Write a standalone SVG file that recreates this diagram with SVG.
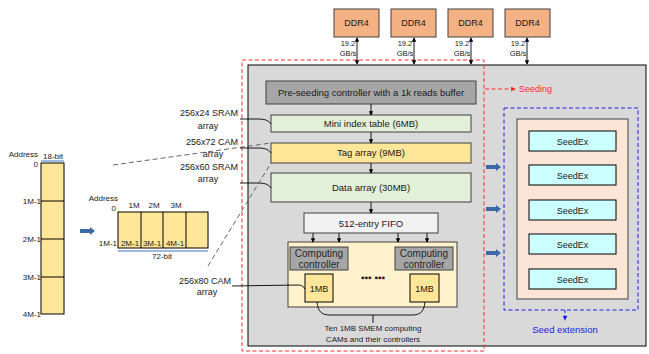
<svg xmlns="http://www.w3.org/2000/svg" width="649" height="354" viewBox="0 0 649 354">
  <style>
    text { font-family: "Liberation Sans", Arial, sans-serif; font-size: 9px; fill: #1a1a1a; }
    .c { text-anchor: middle; }
    .r { text-anchor: end; }
    .box { stroke: #404040; stroke-width: 1; }
    .line { stroke: #000; stroke-width: 0.9; fill: none; }
    .dash { stroke: #555; stroke-width: 0.9; stroke-dasharray: 5 3; fill: none; }
    .cell { fill: #ffe699; stroke: #000; stroke-width: 1; }
  </style>
  <defs>
    <marker id="ah" viewBox="0 0 6 6" refX="5" refY="3" markerWidth="5" markerHeight="5" orient="auto-start-reverse">
      <path d="M0,0 L6,3 L0,6 z" fill="#000"/>
    </marker>
    <marker id="ahRed" viewBox="0 0 6 6" refX="5" refY="3" markerWidth="5" markerHeight="5" orient="auto">
      <path d="M0,0 L6,3 L0,6 z" fill="#ff2a2a"/>
    </marker>
    <marker id="ahBlue" viewBox="0 0 6 6" refX="5" refY="3" markerWidth="5" markerHeight="5" orient="auto">
      <path d="M0,0 L6,3 L0,6 z" fill="#2020e0"/>
    </marker>
    <g id="fatArrow">
      <path d="M0,-2 L10,-2 L10,-4 L15,0 L10,4 L10,2 L0,2 z" fill="#3d68a8"/>
    </g>
  </defs>

  <!-- accelerator body -->
  <g id="chip">
    <rect x="248" y="65" width="398" height="281" fill="#d9d9d9" stroke="#000" stroke-width="1"/>
  </g>

  <!-- seeding region -->
  <g id="seeding-region">
    <rect x="242" y="60" width="242" height="291" fill="none" stroke="#ff2a2a" stroke-width="1" stroke-dasharray="4 2.5"/>
    <path d="M485,89 L515,89" stroke="#ff2a2a" stroke-width="1" stroke-dasharray="4 2.5" fill="none" marker-end="url(#ahRed)"/>
    <text x="519" y="92" style="fill:#ff2a2a">Seeding</text>
  </g>

  <!-- DDR4 channels -->
  <g id="ddr4-1">
    <rect x="334" y="9" width="45" height="28" fill="#f4b183" class="box"/>
    <text x="356.5" y="26" class="c">DDR4</text>
  </g>
  <g id="ddr4-2">
    <rect x="391" y="9" width="45" height="28" fill="#f4b183" class="box"/>
    <text x="413.5" y="26" class="c">DDR4</text>
  </g>
  <g id="ddr4-3">
    <rect x="448" y="9" width="45" height="28" fill="#f4b183" class="box"/>
    <text x="470.5" y="26" class="c">DDR4</text>
  </g>
  <g id="ddr4-4">
    <rect x="505" y="9" width="45" height="28" fill="#f4b183" class="box"/>
    <text x="527.5" y="26" class="c">DDR4</text>
  </g>

  <!-- seeding pipeline -->
  <g id="preseed">
    <rect x="266" y="81" width="210" height="23" fill="#a6a6a6" class="box"/>
    <text x="371" y="95.5" class="c" style="font-size:9.5px">Pre-seeding controller with a 1k reads buffer</text>
  </g>
  <g id="mini-index">
    <rect x="271" y="115" width="200" height="17" fill="#e2efd9" class="box"/>
    <text x="371" y="126.5" class="c" style="font-size:9.5px">Mini index table (6MB)</text>
  </g>
  <g id="tag-array">
    <rect x="271" y="143" width="200" height="20" fill="#ffe699" class="box"/>
    <text x="371" y="156" class="c" style="font-size:9.5px">Tag array (9MB)</text>
  </g>
  <g id="data-array">
    <rect x="271" y="173" width="200" height="29" fill="#e2efd9" class="box"/>
    <text x="371" y="191" class="c" style="font-size:9.5px">Data array (30MB)</text>
  </g>
  <g id="fifo">
    <rect x="304" y="213" width="134" height="20" fill="#f2f2f2" class="box"/>
    <text x="371" y="226.5" class="c" style="font-size:9.5px">512-entry FIFO</text>
  </g>
  <g id="computing-cams">
    <rect x="288" y="242" width="169" height="65" fill="#fff2cc" class="box"/>
    <text x="373" y="281" class="c" style="font-size:10px;font-weight:bold">▪▪▪ ▪▪▪</text>
  </g>
  <g id="ctrl-left">
    <rect x="290" y="247" width="58" height="23" fill="#a6a6a6" class="box"/>
    <text x="319" y="257" class="c" style="font-size:10px;fill:#262626">Computing</text>
    <text x="319" y="268" class="c" style="font-size:10px;fill:#262626">controller</text>
  </g>
  <g id="ctrl-right">
    <rect x="395" y="247" width="58" height="23" fill="#a6a6a6" class="box"/>
    <text x="424" y="257" class="c" style="font-size:10px;fill:#262626">Computing</text>
    <text x="424" y="268" class="c" style="font-size:10px;fill:#262626">controller</text>
  </g>
  <g id="cam-left">
    <rect x="305" y="274" width="28" height="28" fill="#ffe699" stroke="#000" stroke-width="1"/>
    <text x="319" y="291.5" class="c">1MB</text>
  </g>
  <g id="cam-right">
    <rect x="410" y="274" width="29" height="28" fill="#ffe699" stroke="#000" stroke-width="1"/>
    <text x="424.5" y="291.5" class="c">1MB</text>
  </g>
  <g id="cam-caption">
    <text x="373" y="331" class="c" style="font-size:8px">Ten 1MB SMEM computing</text>
    <text x="373" y="342" class="c" style="font-size:8px">CAMs  and their controllers</text>
  </g>

  <!-- seed extension region -->
  <g id="seedex-region">
    <rect x="504" y="108" width="134" height="202" fill="none" stroke="#2020e0" stroke-width="1" stroke-dasharray="4 2.5"/>
    <rect x="517" y="119" width="111" height="180" fill="#fbe5d6" class="box"/>
    <path d="M565,310 L565,320" stroke="#2020e0" stroke-width="1" stroke-dasharray="3 2" fill="none" marker-end="url(#ahBlue)"/>
    <text x="565" y="333" class="c" style="fill:#2020e0;font-size:9.5px">Seed extension</text>
  </g>
  <g id="seedex-1">
    <rect x="529" y="131" width="87" height="20" fill="#ccffff" stroke="#000" stroke-width="1"/>
    <text x="572.5" y="144.5" class="c">SeedEx</text>
  </g>
  <g id="seedex-2">
    <rect x="529" y="165" width="87" height="20" fill="#ccffff" stroke="#000" stroke-width="1"/>
    <text x="572.5" y="178.5" class="c">SeedEx</text>
  </g>
  <g id="seedex-3">
    <rect x="529" y="200" width="87" height="20" fill="#ccffff" stroke="#000" stroke-width="1"/>
    <text x="572.5" y="213.5" class="c">SeedEx</text>
  </g>
  <g id="seedex-4">
    <rect x="529" y="234" width="87" height="20" fill="#ccffff" stroke="#000" stroke-width="1"/>
    <text x="572.5" y="247.5" class="c">SeedEx</text>
  </g>
  <g id="seedex-5">
    <rect x="529" y="269" width="87" height="20" fill="#ccffff" stroke="#000" stroke-width="1"/>
    <text x="572.5" y="282.5" class="c">SeedEx</text>
  </g>

  <!-- linear memory layout -->
  <g id="mem-linear">
    <text x="38" y="157" class="r" style="font-size:8px">Address</text>
    <text x="38" y="167" class="r" style="font-size:8px">0</text>
    <text x="53" y="159" class="c" style="font-size:8px">18-bit</text>
    <line x1="41" y1="161" x2="64" y2="161" stroke="#4472c4" stroke-width="1"/>
    <rect x="41" y="163" width="23" height="151" class="cell"/>
    <line x1="41" y1="201" x2="64" y2="201" stroke="#000"/>
    <line x1="41" y1="239" x2="64" y2="239" stroke="#000"/>
    <line x1="41" y1="277" x2="64" y2="277" stroke="#000"/>
    <text x="41" y="203.5" class="r" style="font-size:8px">1M-1</text>
    <text x="41" y="241.5" class="r" style="font-size:8px">2M-1</text>
    <text x="41" y="279.5" class="r" style="font-size:8px">3M-1</text>
    <text x="41" y="317" class="r" style="font-size:8px">4M-1</text>
  </g>

  <!-- folded memory layout -->
  <g id="mem-folded">
    <text x="118" y="201" class="r" style="font-size:8px">Address</text>
    <text x="116" y="211" class="r" style="font-size:8px">0</text>
    <text x="134" y="208" class="c" style="font-size:8px">1M</text>
    <text x="154" y="208" class="c" style="font-size:8px">2M</text>
    <text x="176" y="208" class="c" style="font-size:8px">3M</text>
    <rect x="118" y="212" width="90" height="36" class="cell"/>
    <line x1="141" y1="212" x2="141" y2="248" stroke="#000"/>
    <line x1="163" y1="212" x2="163" y2="248" stroke="#000"/>
    <line x1="186" y1="212" x2="186" y2="248" stroke="#000"/>
    <text x="117" y="246" class="r" style="font-size:8px">1M-1</text>
    <text x="130" y="246" class="c" style="font-size:8px">2M-1</text>
    <text x="152" y="246" class="c" style="font-size:8px">3M-1</text>
    <text x="175" y="246" class="c" style="font-size:8px">4M-1</text>
    <line x1="118" y1="251" x2="208" y2="251" stroke="#4472c4" stroke-width="1"/>
    <text x="162" y="259" class="c" style="font-size:8px">72-bit</text>
  </g>

  <!-- array geometry labels -->
  <g id="labels">
    <text x="238" y="116" class="r">256x24 SRAM</text>
    <text x="208" y="129" class="c">array</text>
    <text x="238" y="145" class="r">256x72 CAM</text>
    <text x="213" y="157" class="c">array</text>
    <text x="238" y="170" class="r">256x60 SRAM</text>
    <text x="208" y="182" class="c">array</text>
    <text x="231" y="284" class="r">256x80 CAM</text>
    <text x="207" y="295" class="c">array</text>
  </g>

  <!-- connectors -->
  <g id="connectors">
    <!-- DDR4 links -->
    <line x1="357" y1="38" x2="357" y2="64" class="line" marker-start="url(#ah)" marker-end="url(#ah)"/>
    <line x1="414" y1="38" x2="414" y2="64" class="line" marker-start="url(#ah)" marker-end="url(#ah)"/>
    <line x1="471" y1="38" x2="471" y2="64" class="line" marker-start="url(#ah)" marker-end="url(#ah)"/>
    <line x1="527" y1="38" x2="527" y2="64" class="line" marker-start="url(#ah)" marker-end="url(#ah)"/>
    <g style="font-size:7.5px">
      <text x="348" y="46" class="c" style="font-size:7.5px">19.2</text>
      <text x="348" y="56" class="c" style="font-size:7.5px">GB/s</text>
      <text x="405" y="46" class="c" style="font-size:7.5px">19.2</text>
      <text x="405" y="56" class="c" style="font-size:7.5px">GB/s</text>
      <text x="462" y="46" class="c" style="font-size:7.5px">19.2</text>
      <text x="462" y="56" class="c" style="font-size:7.5px">GB/s</text>
      <text x="518" y="46" class="c" style="font-size:7.5px">19.2</text>
      <text x="518" y="56" class="c" style="font-size:7.5px">GB/s</text>
    </g>

    <!-- pipeline flow -->
    <line x1="371" y1="104" x2="371" y2="115" class="line" marker-end="url(#ah)"/>
    <line x1="371" y1="132" x2="371" y2="143" class="line" marker-end="url(#ah)"/>
    <line x1="371" y1="163" x2="371" y2="173" class="line" marker-end="url(#ah)"/>
    <line x1="371" y1="202" x2="371" y2="213" class="line" marker-end="url(#ah)"/>
    <line x1="313" y1="233" x2="313" y2="242" class="line" marker-end="url(#ah)"/>
    <line x1="339" y1="233" x2="339" y2="242" class="line" marker-end="url(#ah)"/>
    <line x1="398" y1="233" x2="398" y2="242" class="line" marker-end="url(#ah)"/>
    <line x1="427" y1="233" x2="427" y2="242" class="line" marker-end="url(#ah)"/>

    <!-- label leaders -->
    <path d="M240,119 L258,119 C266,119 269,121 271,124" class="line"/>
    <path d="M240,148 L258,148 C266,148 269,150 271,153" class="line"/>
    <path d="M240,183 L258,183 C266,183 269,185 271,188" class="line"/>
    <path d="M232,286 L298,285 C302,285 304,287 305,289" class="line"/>

    <!-- zoom lines -->
    <line x1="113" y1="165" x2="271" y2="143" class="dash"/>
    <line x1="208" y1="266" x2="271" y2="163" class="dash"/>

    <!-- CAM group brace -->
    <path d="M317,302 C318,312 322,315 330,315 L412,315 C420,315 424,312 425,302" class="line"/>
    <line x1="373" y1="315" x2="373" y2="323" class="line"/>

    <!-- data movement arrows -->
    <use href="#fatArrow" x="80" y="231"/>
    <use href="#fatArrow" x="486" y="167"/>
    <use href="#fatArrow" x="486" y="209"/>
    <use href="#fatArrow" x="486" y="253"/>
  </g>
</svg>
